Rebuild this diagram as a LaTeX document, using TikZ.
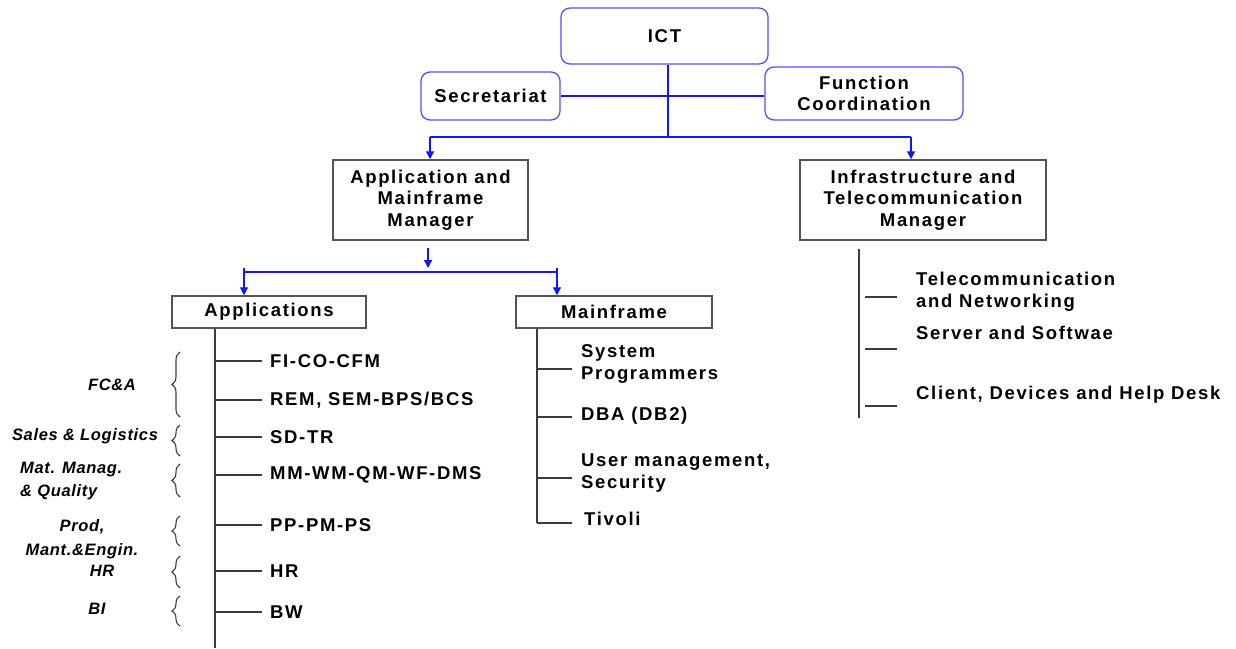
\documentclass[tikz,border=0pt]{standalone}
\usepackage{fontspec}
\setmainfont{Liberation Sans}[LetterSpace=9]
\newfontfamily\catfont{Liberation Sans}[LetterSpace=4]
\usetikzlibrary{arrows.meta,decorations.pathreplacing}
\definecolor{boxblue}{RGB}{80,80,255}
\definecolor{lineblue}{RGB}{20,20,255}
\definecolor{boxgray}{RGB}{85,85,85}
\definecolor{linegray}{RGB}{60,60,60}
\tikzset{
  rbox/.style={draw=boxblue, line width=1.3pt, rounded corners=9pt, align=center, inner sep=0pt,
    font=\bfseries\fontsize{18.5}{21.5}\selectfont},
  sbox/.style={draw=boxgray, line width=1.5pt, align=center, inner sep=0pt,
    font=\bfseries\fontsize{18.5}{21.5}\selectfont},
  bline/.style={draw=lineblue, line width=1.2pt},
  barrow/.style={bline, -{Triangle[length=8pt,width=8pt]}},
  kline/.style={draw=linegray, line width=1.2pt},
  item/.style={anchor=west, inner xsep=8pt, inner ysep=0pt, align=left,
    font=\bfseries\fontsize{18.5}{22}\selectfont},
  cat/.style={align=center, inner sep=0pt, font=\catfont\bfseries\itshape\fontsize{16.5}{23.5}\selectfont},
  brc/.style={decorate, decoration={brace, amplitude=8pt}, draw=linegray, line width=1.1pt}
}
\begin{document}
\begin{tikzpicture}[x=1pt,y=-1pt]
\fill[white] (0,0) rectangle (1236,648);
\useasboundingbox (0,0) rectangle (1236,648);

% top boxes
\node[rbox, minimum width=207pt, minimum height=56pt] (ict) at (664.5,36) {ICT};
\node[rbox, minimum width=139pt, minimum height=48pt] (sec) at (490.5,96) {Secretariat};
\node[rbox, minimum width=198pt, minimum height=53pt] (fc) at (864,93.5) {Function\\Coordination};

\node[sbox, minimum width=195pt, minimum height=80pt] (amm) at (430.5,200) {Application and\\Mainframe\\Manager};
\node[sbox, minimum width=246pt, minimum height=80pt] (itm) at (923,200) {Infrastructure and\\Telecommunication\\Manager};

\node[sbox, minimum width=194pt, minimum height=32pt] (apps) at (269,312) {Applications};
\node[sbox, minimum width=196pt, minimum height=32pt] (mf) at (614,312) {Mainframe};

% blue connectors
\coordinate (j) at (668,137);
\coordinate (jl) at (430,137);
\coordinate (jr) at (911,137);
\draw[bline] (ict.south -| j) -- (j);
\draw[bline] (sec.east) -- (sec.east -| fc.west);
\draw[bline] (jl) -- (jr);
\draw[barrow] (jl) -- (jl |- amm.north);
\draw[barrow] (jr) -- (jr |- itm.north);

\coordinate (a1) at (428,248);
\coordinate (a2) at (428,268);
\draw[barrow] (a1) -- (a2);
\coordinate (hl) at (244,268);
\coordinate (hr) at (557,268);
\coordinate (hm) at (244,272);
\draw[bline] (hm) -- (hm -| hr);
\draw[barrow] (hl) -- (hl |- apps.north);
\draw[barrow] (hr) -- (hr |- mf.north);

% applications tree
\coordinate (av) at (215,648);
\draw[kline] (apps.south -| av) -- (av);
\node[item] (i1) at (262,361) {FI-CO-CFM};
\node[item] (i2) at (262,400) {REM, SEM-BPS/BCS};
\node[item] (i3) at (262,437) {SD-TR};
\node[item] (i4) at (262,475) {MM-WM-QM-WF-DMS};
\node[item] (i5) at (262,525) {PP-PM-PS};
\node[item] (i6) at (262,571) {HR};
\node[item] (i7) at (262,612) {BW};
\foreach \n in {i1,i2,i3,i4,i5,i6,i7}{
  \draw[kline] (\n.west -| av) -- (\n.west);
}

% categories
\node[cat] (c1) at (112,385) {FC\&A};
\node[cat] (c2) at (85,436) {Sales \& Logistics};
\node[cat, align=left, anchor=west] (c3) at (20,481) {Mat. Manag.\\ \& Quality};
\node[cat] (c4) at (82,539) {Prod,\\Mant.\&Engin.};
\node[cat] (c5) at (102,571) {HR};
\node[cat] (c6) at (97,609) {BI};

\draw[brc] (180,417) -- (180,352);
\draw[brc] (180,456) -- (180,425);
\draw[brc] (180,497) -- (180,464);
\draw[brc] (180,546) -- (180,516);
\draw[brc] (180,588) -- (180,556);
\draw[brc] (180,626) -- (180,596);

% mainframe tree
\coordinate (mv) at (537,523);
\draw[kline] (mf.south -| mv) -- (mv);
\node[item, inner xsep=9pt] (m1) at (572,364) {System\\Programmers};
\node[item, inner xsep=9pt] (m2) at (572,416) {DBA (DB2)};
\node[item, inner xsep=9pt] (m3) at (572,473) {User management,\\Security};
\node[item, inner xsep=12pt] (m4) at (572,519) {Tivoli};
\draw[kline] ([yshift=-5pt]m1.west -| mv) -- ([yshift=-5pt]m1.west);
\draw[kline] ([yshift=-1pt]m2.west -| mv) -- ([yshift=-1pt]m2.west);
\draw[kline] ([yshift=-5pt]m3.west -| mv) -- ([yshift=-5pt]m3.west);
\draw[kline] (mv) -- (mv -| m4.west);

% infrastructure tree
\coordinate (iv) at (859,418);
\draw[kline] ([yshift=-8pt]itm.south -| iv) -- (iv);
\node[item, inner xsep=19pt] (t1) at (897,292) {Telecommunication\\and Networking};
\node[item, inner xsep=19pt] (t2) at (897,333) {Server and Softwae};
\node[item, inner xsep=19pt] (t3) at (897,395) {Client, Devices and Help Desk};
\draw[kline] ([yshift=-5pt,xshift=-32pt]t1.west) -- ([yshift=-5pt]t1.west);
\draw[kline] ([yshift=-16pt,xshift=-32pt]t2.west) -- ([yshift=-16pt]t2.west);
\draw[kline] ([yshift=-11pt,xshift=-32pt]t3.west) -- ([yshift=-11pt]t3.west);
\end{tikzpicture}
\end{document}
